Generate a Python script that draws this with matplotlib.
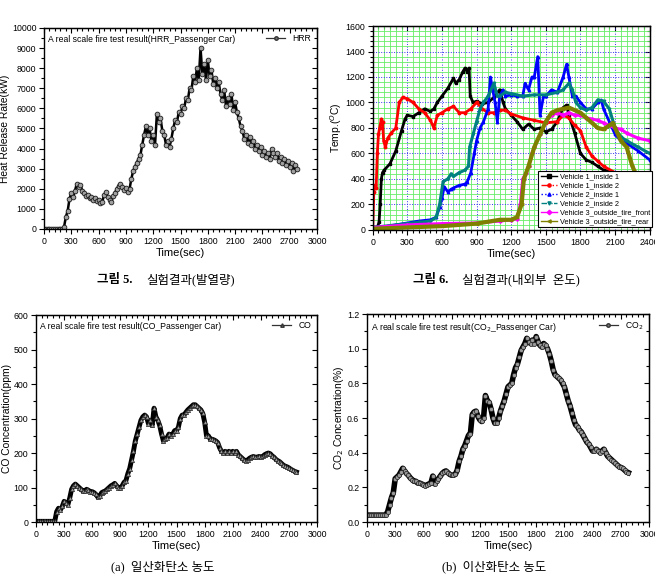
import numpy as np
import matplotlib
matplotlib.use("Agg")
import matplotlib.pyplot as plt
import matplotlib.ticker as mtick
from matplotlib.lines import Line2D

plt.rcParams['font.family'] = ['Liberation Sans', 'DejaVu Sans']

# ---- HRR (kW), sampled every 20 s ----
hrr = [0, 0, 0, 0, 0, 0, 0, 0, 0, 0, 0,
       100, 600, 900, 1500, 1800, 1600, 1900, 2250, 2100, 2200,
       1900, 1800, 1650, 1700, 1550, 1600, 1450, 1550, 1400, 1450,
       1300, 1350, 1700, 1850, 1600, 1450, 1350, 1650, 1800, 2000,
       2150, 2250, 2100, 1950, 2050, 1850, 2000, 2500, 2900, 3100,
       3300, 3500, 3700, 4200, 4700, 5100, 4700, 5000, 4400, 4700,
       4200, 5700, 5300, 5500, 4900, 4700, 4200, 4400, 4100, 4500,
       5000, 5400, 5300, 5800, 5700, 6100, 6000, 6500, 6400, 7000,
       6900, 7600, 7300, 8000, 7400, 9000, 7700, 8200, 7400, 8400,
       7600, 7900, 7200, 7500, 7000, 7300, 6700, 6400, 6900, 6100,
       6500, 6200, 6700, 5900, 6300, 5800, 5500, 5100, 4900, 4500,
       4700, 4300, 4600, 4200, 4400, 4000, 4200, 3900, 4100, 3700,
       3900, 3600, 3800, 3500, 4000, 3800, 3600, 3800, 3400, 3600,
       3300, 3500, 3200, 3400, 3100, 3300, 2900, 3200, 3000]
hrr_t = np.arange(0, 20 * len(hrr), 20)

# ---- CO (ppm), every 20 s ----
co = [2, 2, 2, 2, 2, 2, 2, 2, 2, 2, 2,
      30, 40, 35, 45, 60, 55, 50, 70, 95, 105,
      110, 105, 100, 95, 90, 90, 95, 92, 88, 88,
      85, 80, 72, 75, 85, 88, 90, 95, 100, 105,
      108, 112, 105, 100, 98, 105, 115, 120, 140, 155,
      180, 205, 235, 255, 275, 295, 305, 310, 305, 285,
      295, 280, 330, 305, 295, 280, 255, 235, 240, 245,
      255, 250, 255, 265, 265, 275, 300, 310, 310, 318,
      325, 330, 335, 340, 340, 335, 330, 325, 315, 290,
      250, 250, 240, 240, 238, 235, 230, 215, 205, 200,
      205, 200, 205, 200, 205, 200, 205, 195, 190, 185,
      180, 178, 180, 185, 188, 190, 188, 188, 190, 188,
      190, 195, 198, 200, 198, 192, 188, 182, 178, 175,
      170, 165, 162, 160, 157, 153, 150, 147, 145]
co_t = np.arange(0, 20 * len(co), 20)

# ---- CO2 (%), every 20 s ----
co2 = [0.04, 0.04, 0.04, 0.04, 0.04, 0.04, 0.04, 0.04, 0.04, 0.04, 0.04,
       0.06, 0.10, 0.14, 0.17, 0.25, 0.26, 0.27, 0.29, 0.31, 0.295,
       0.28, 0.27, 0.255, 0.245, 0.235, 0.235, 0.225, 0.225, 0.22, 0.215,
       0.21, 0.215, 0.22, 0.225, 0.265, 0.22, 0.235, 0.25, 0.265, 0.28,
       0.29, 0.295, 0.285, 0.275, 0.27, 0.27, 0.275, 0.30, 0.35, 0.38,
       0.42, 0.44, 0.47, 0.50, 0.51, 0.62, 0.635, 0.64, 0.61, 0.59,
       0.58, 0.60, 0.73, 0.70, 0.69, 0.65, 0.60, 0.57, 0.57, 0.60,
       0.64, 0.67, 0.70, 0.74, 0.78, 0.79, 0.80, 0.85, 0.89, 0.91,
       0.95, 0.99, 1.01, 1.03, 1.06, 1.04, 1.03, 1.05, 1.03, 1.07,
       1.04, 1.02, 1.01, 1.03, 1.02, 1.00, 0.97, 0.93, 0.88, 0.85,
       0.84, 0.83, 0.82, 0.80, 0.78, 0.74, 0.70, 0.67, 0.63, 0.59,
       0.56, 0.55, 0.53, 0.52, 0.50, 0.48, 0.46, 0.45, 0.43, 0.41,
       0.41, 0.42, 0.41, 0.40, 0.41, 0.42, 0.40, 0.38, 0.37, 0.36,
       0.35, 0.34, 0.33, 0.32, 0.315, 0.31, 0.30, 0.29, 0.285]
co2_t = np.arange(0, 20 * len(co2), 20)

# ---- temperatures (deg C) ----
v1_in1_t = [0, 40, 55, 65, 75, 85, 100, 150, 200, 250, 280, 300, 350, 400, 450, 500,
            530, 560, 600, 650, 700, 720, 750, 780, 800, 820, 835, 845, 870, 900, 950,
            1000, 1050, 1100, 1130, 1150, 1200, 1250, 1300, 1350, 1400, 1450, 1500, 1550,
            1600, 1650, 1680, 1700, 1750, 1800, 1850, 1900, 1950, 2000, 2050, 2100, 2200,
            2300, 2400]
v1_in1 = [20, 20, 60, 200, 400, 450, 470, 520, 620, 780, 870, 900, 890, 920, 950, 930,
          950, 1000, 1050, 1110, 1190, 1150, 1180, 1240, 1270, 1240, 1270, 1050, 1000, 1010, 990,
          1000, 1040, 1100, 1000, 950, 900, 850, 790, 830, 790, 800, 770, 790,
          850, 960, 980, 900, 760, 600, 550, 530, 500, 470, 460, 450, 430,
          350, 290]

v1_in2_t = [0, 10, 20, 30, 40, 50, 60, 75, 85, 95, 110, 130, 160, 200, 230, 260, 300, 350,
            400, 450, 500, 530, 560, 600, 650, 700, 750, 800, 850, 900, 950, 1000, 1050,
            1100, 1150, 1200, 1300, 1400, 1500, 1600, 1650, 1700, 1750, 1800, 1850, 1900,
            1950, 2000, 2100, 2200, 2300, 2400]
v1_in2 = [0, 300, 350, 330, 600, 750, 800, 870, 850, 700, 650, 720, 760, 800, 1000, 1040, 1030, 1000,
          950, 920, 860, 800, 900, 920, 950, 970, 920, 920, 950, 1000, 950, 920, 920,
          940, 940, 910, 880, 860, 840, 850, 900, 880, 820, 780, 650, 580,
          540, 500, 450, 400, 360, 320]

v2_in1_t = [0, 100, 200, 300, 400, 500, 550, 580, 600, 620, 650, 680, 700, 750, 800, 820,
            850, 880, 900, 930, 960, 1000, 1020, 1040, 1060, 1080, 1100, 1130, 1150, 1200,
            1250, 1300, 1320, 1350, 1380, 1400, 1430, 1450, 1480, 1500, 1550, 1600, 1650,
            1680, 1700, 1730, 1760, 1800, 1850, 1900, 1950, 1980, 2000, 2050, 2100, 2150,
            2200, 2300, 2400]
v2_in1 = [20, 25, 40, 55, 70, 80, 100, 180, 250, 340, 300, 320, 330, 350, 360, 380,
          450, 600, 700, 800, 850, 950, 1200, 1100, 1000, 850, 1050, 1100, 1050, 1060,
          1050, 1050, 1150, 1100, 1200, 1200, 1360, 900, 1050, 1050, 1100, 1080, 1200,
          1300, 1200, 1050, 1050, 1000, 950, 950, 1000, 1020, 950, 850, 750, 700,
          680, 620, 550]

v2_in2_t = [0, 200, 300, 400, 500, 550, 580, 610, 650, 680, 700, 750, 800, 830, 840, 870,
            900, 930, 960, 1000, 1050, 1080, 1100, 1150, 1200, 1300, 1400, 1500, 1600, 1650,
            1700, 1730, 1760, 1800, 1850, 1900, 1950, 2000, 2050, 2100, 2150, 2200, 2300, 2400]
v2_in2 = [20, 40, 50, 60, 70, 100, 200, 380, 400, 440, 420, 450, 470, 500, 650, 750,
          850, 950, 1000, 1050, 1150, 1050, 1050, 1080, 1070, 1050, 1060, 1060, 1080, 1100,
          1150, 1100, 1000, 960, 940, 960, 1020, 1010, 950, 800, 730, 700, 650, 600]

v3_front_t = [0, 300, 600, 900, 1100, 1200, 1250, 1280, 1300, 1330, 1350, 1380, 1400, 1450,
              1500, 1550, 1600, 1650, 1700, 1750, 1800, 1850, 1900, 1950, 2000, 2050, 2100,
              2150, 2200, 2300, 2400]
v3_front = [20, 40, 50, 55, 70, 80, 90, 200, 400, 450, 500, 600, 650, 750,
            850, 900, 920, 900, 920, 900, 900, 880, 870, 860, 840, 820, 800,
            790, 760, 720, 700]

v3_rear_t = [0, 300, 600, 900, 1100, 1200, 1250, 1290, 1310, 1350, 1400, 1450, 1500, 1550,
             1600, 1650, 1700, 1750, 1800, 1850, 1900, 1950, 2000, 2050, 2080, 2100, 2150,
             2200, 2250, 2300, 2350, 2400]
v3_rear = [10, 20, 30, 50, 80, 80, 100, 200, 400, 500, 650, 750, 850, 920,
           940, 950, 960, 940, 920, 880, 840, 800, 790, 820, 840, 800, 700,
           650, 500, 400, 300, 250]

temp_series = [
    ("Vehicle 1_inside 1", v1_in1_t, v1_in1, "#000000", "s", "-", 2.0),
    ("Vehicle 1_inside 2", v1_in2_t, v1_in2, "#ff0000", "o", "-.", 2.0),
    ("Vehicle 2_inside 1", v2_in1_t, v2_in1, "#0000ff", "^", ":", 2.0),
    ("Vehicle 2_inside 2", v2_in2_t, v2_in2, "#008080", "v", (0, (4, 1, 1, 1, 1, 1)), 2.2),
    ("Vehicle 3_outside_tire_front", v3_front_t, v3_front, "#ff00ff", "D", "-", 2.2),
    ("Vehicle 3_outside_tire_rear", v3_rear_t, v3_rear, "#808000", "<", "-", 3.0),
]

LABEL_FS = 7.4
TICK_FS = 6.3
NOTE_FS = 6.2


def style_axes(ax, xmaj, xmin, ymaj, ymin):
    ax.xaxis.set_major_locator(mtick.MultipleLocator(xmaj))
    ax.xaxis.set_minor_locator(mtick.MultipleLocator(xmin))
    ax.yaxis.set_major_locator(mtick.MultipleLocator(ymaj))
    ax.yaxis.set_minor_locator(mtick.MultipleLocator(ymin))
    ax.tick_params(which='both', direction='out', labelsize=TICK_FS, pad=2, width=0.8)
    ax.tick_params(which='major', length=3.5)
    ax.tick_params(which='minor', length=2)
    top = ax.secondary_xaxis('top')
    right = ax.secondary_yaxis('right')
    for sec, axis in ((top, top.xaxis), (right, right.yaxis)):
        axis.set_major_locator(mtick.MultipleLocator(xmaj if sec is top else ymaj))
        axis.set_minor_locator(mtick.MultipleLocator(xmin if sec is top else ymin))
        sec.tick_params(which='both', direction='in', labeltop=False, labelright=False, width=0.8)
        sec.tick_params(which='major', length=3.5)
        sec.tick_params(which='minor', length=2)
    for s in ax.spines.values():
        s.set_linewidth(1.0)


def key(label, marker):
    return [Line2D([], [], color='#333333', lw=0.9, marker=marker, ms=2.5,
                   mfc='#777777', mec='#333333', label=label)]


fig = plt.figure(figsize=(6.55, 5.87), dpi=100)

# HRR
ax1 = fig.add_axes([0.0672, 0.6099, 0.4168, 0.3424])
ax1.plot(hrr_t, hrr, color='black', lw=1.8, marker='o', ms=3.4,
         mfc='#a0a0a0', mec='#1a1a1a', mew=0.6)
ax1.set_xlim(0, 3000)
ax1.set_ylim(0, 10000)
style_axes(ax1, 300, 60, 1000, 500)
ax1.set_xlabel('Time(sec)', fontsize=LABEL_FS + 0.6, labelpad=2)
ax1.set_ylabel('Heat Release Rate(kW)', fontsize=LABEL_FS, labelpad=1)
ax1.text(0.015, 0.965, 'A real scale fire test result(HRR_Passenger Car)',
         transform=ax1.transAxes, fontsize=NOTE_FS, va='top')
ax1.legend(handles=key('HRR', 'o'), loc='upper right', frameon=False, fontsize=NOTE_FS,
           handlelength=2.2, borderaxespad=0.3)

# temperatures
ax2 = fig.add_axes([0.569, 0.6082, 0.4229, 0.3475])
handles = []
for name, t, v, c, m, ls, lw in temp_series:
    ax2.plot(t, v, color=c, lw=lw, marker=m, ms=1.8, mec=c, mfc=c)
    handles.append(Line2D([], [], color=c, lw=1.0, ls=ls, marker=m, ms=2.3, label=name))
ax2.set_xlim(0, 2400)
ax2.set_ylim(0, 1600)
ax2.set_axisbelow(True)
ax2.grid(which='minor', color='#66ee66', lw=0.6, ls='-')
ax2.grid(which='major', color='#3333ee', lw=0.7, ls=':')
style_axes(ax2, 300, 50, 200, 40)
ax2.set_xlabel('Time(sec)', fontsize=LABEL_FS + 0.6, labelpad=2)
ax2.set_ylabel('Temp.($^O$C)', fontsize=LABEL_FS, labelpad=1)
leg = ax2.legend(handles=handles, loc='lower left', bbox_to_anchor=(0.585, -0.005),
                 fontsize=5.3, handlelength=2.2, borderpad=0.3, labelspacing=0.25,
                 handletextpad=0.4, fancybox=False, framealpha=1, edgecolor='black')
leg.get_frame().set_linewidth(0.8)

# CO
ax3 = fig.add_axes([0.055, 0.1107, 0.429, 0.3526])
ax3.plot(co_t, co, color='black', lw=3.5, marker='^', ms=3,
         mfc='#9a9a9a', mec='#222222', mew=0.5)
ax3.set_xlim(0, 3000)
ax3.set_ylim(0, 600)
style_axes(ax3, 300, 60, 100, 50)
ax3.set_xlabel('Time(sec)', fontsize=LABEL_FS + 0.6, labelpad=2)
ax3.set_ylabel('CO Concentration(ppm)', fontsize=LABEL_FS, labelpad=1)
ax3.text(0.015, 0.965, 'A real scale fire test result(CO_Passenger Car)',
         transform=ax3.transAxes, fontsize=NOTE_FS, va='top')
ax3.legend(handles=key('CO', '^'), loc='upper right', frameon=False, fontsize=NOTE_FS,
           handlelength=2.2, borderaxespad=0.3)

# CO2
ax4 = fig.add_axes([0.5603, 0.1107, 0.4305, 0.3543])
ax4.plot(co2_t, co2, color='black', lw=4.0, marker='o', ms=3,
         mfc='#9a9a9a', mec='#222222', mew=0.5)
ax4.set_xlim(0, 3000)
ax4.set_ylim(0, 1.2)
style_axes(ax4, 300, 60, 0.2, 0.1)
ax4.yaxis.set_major_formatter(mtick.FormatStrFormatter('%.1f'))
ax4.set_xlabel('Time(sec)', fontsize=LABEL_FS + 0.6, labelpad=2)
ax4.set_ylabel('CO$_2$ Concentration(%)', fontsize=LABEL_FS, labelpad=1)
ax4.text(0.015, 0.965, 'A real scale fire test result(CO$_2$_Passenger Car)',
         transform=ax4.transAxes, fontsize=NOTE_FS, va='top')
ax4.legend(handles=key('CO$_2$', 'o'), loc='upper right', frameon=False, fontsize=NOTE_FS,
           handlelength=2.2, borderaxespad=0.3)

# captions
cap = ['Liberation Serif', 'Noto Sans CJK KR']
W, H = 655.0, 587.0
fig.text(97 / W, 1 - 280 / H, '그림 5.', family=cap, fontsize=9, fontweight='bold', va='center')
fig.text(146 / W, 1 - 280 / H, '실험결과(발열량)', family=cap, fontsize=9, va='center')
fig.text(413 / W, 1 - 280 / H, '그림 6.', family=cap, fontsize=9, fontweight='bold', va='center')
fig.text(462 / W, 1 - 280 / H, '실험결과(내외부  온도)', family=cap, fontsize=9, va='center')
fig.text(163 / W, 1 - 567 / H, '(a)  일산화탄소 농도', family=cap, fontsize=9, ha='center', va='center')
fig.text(494 / W, 1 - 567 / H, '(b)  이산화탄소 농도', family=cap, fontsize=9, ha='center', va='center')

fig.savefig('out.png', dpi=100)
